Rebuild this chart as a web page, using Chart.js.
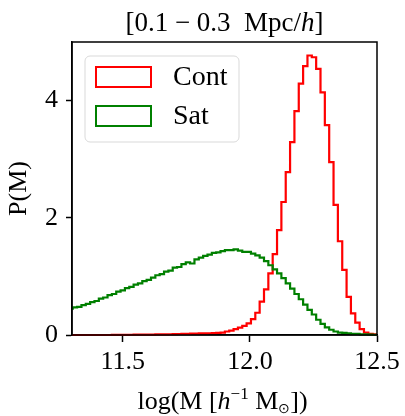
<!DOCTYPE html>
<html>
<head>
<meta charset="utf-8">
<script src="https://cdn.jsdelivr.net/npm/chart.js@4.4.0/dist/chart.umd.min.js"></script>
<style>
  html, body { margin: 0; padding: 0; background: #fff; }
</style>
</head>
<body>
<canvas id="histChart" width="405" height="416"></canvas>
<script>
// histogram bins (log M), uniform width
const binLo = 11.2859;
const binWidth = 0.0171;

// P(M) per bin
const contValues = [
  0, 0, 0, 0, 0, 0, 0, 0, 0, 0, 0.002, 0.002, 0.003, 0.003, 0.004, 0.005,
  0.005, 0.006, 0.008, 0.008, 0.009, 0.011, 0.012,
  0.013, 0.015, 0.017, 0.018, 0.02, 0.022,
  0.024, 0.027, 0.028, 0.03, 0.032, 0.035,
  0.04, 0.06, 0.075, 0.10, 0.125, 0.155, 0.20, 0.27, 0.38, 0.57, 0.78, 1.05,
  1.38, 1.79, 2.27, 2.78, 3.29, 3.82, 4.29, 4.59, 4.77, 4.74, 4.54, 4.14,
  3.58, 2.95, 2.22, 1.60, 1.11, 0.65, 0.37, 0.21, 0.10, 0.04, 0.02, 0.01
];
const satValues = [
  0.45, 0.47, 0.48, 0.51, 0.53, 0.56, 0.58, 0.62, 0.64, 0.68, 0.70, 0.74,
  0.76, 0.80, 0.82, 0.86, 0.88, 0.92, 0.94, 0.98, 1.02, 1.04, 1.08, 1.10,
  1.15, 1.16, 1.21, 1.24, 1.22, 1.29, 1.32, 1.35, 1.37, 1.40, 1.41, 1.43,
  1.45, 1.45, 1.46, 1.44, 1.42, 1.42, 1.39, 1.36, 1.32, 1.26, 1.19, 1.12,
  1.05, 0.97, 0.88, 0.79, 0.70, 0.61, 0.52, 0.43, 0.35, 0.26, 0.19, 0.13,
  0.09, 0.06, 0.04, 0.035, 0.03, 0.02, 0.018, 0.012, 0.01, 0.006, 0.004
];

const xTicks = [11.5, 12.0, 12.5];
const yTicks = [0, 2, 4];

const serif = 'Liberation Serif';

// one point per bin edge, last edge drops back to zero
function stepPoints(values) {
  const pts = values.map((v, k) => ({ x: binLo + k * binWidth, y: v }));
  pts.push({ x: binLo + values.length * binWidth, y: 0 });
  return pts;
}

// draw a line of text made of runs with different fonts, centred on cx
function drawRuns(ctx, runs, cx, baseline) {
  let w = 0;
  runs.forEach(r => { ctx.font = r.font; r.w = ctx.measureText(r.t).width; w += r.w; });
  let x = cx - w / 2;
  ctx.textAlign = 'left';
  ctx.textBaseline = 'alphabetic';
  runs.forEach(r => {
    ctx.font = r.font;
    ctx.fillText(r.t, x, baseline + (r.dy || 0));
    x += r.w;
  });
}

const frameAndLegend = {
  id: 'frameAndLegend',
  afterDatasetsDraw(chart) {
    const { ctx, chartArea: a } = chart;
    ctx.save();
    ctx.strokeStyle = '#000';
    ctx.lineWidth = 1.5;
    ctx.strokeRect(a.left, a.top, a.right - a.left, a.bottom - a.top);

    // legend box inside the axes, upper left
    const bx = a.left + 13, by = a.top + 14, bw = 154, bh = 86;
    ctx.beginPath();
    ctx.roundRect(bx, by, bw, bh, 5);
    ctx.fillStyle = 'rgba(255,255,255,0.8)';
    ctx.fill();
    ctx.strokeStyle = '#d9d9d9';
    ctx.lineWidth = 1;
    ctx.stroke();

    chart.data.datasets.forEach((ds, i) => {
      const y = by + 11 + i * 39;
      ctx.strokeStyle = ds.borderColor;
      ctx.lineWidth = 2;
      ctx.strokeRect(bx + 11, y, 55, 20);
      ctx.fillStyle = '#000';
      ctx.font = '28px "' + serif + '"';
      ctx.textBaseline = 'middle';
      ctx.fillText(ds.label, bx + 88, y + 11);
    });

    // title and x label with italic h / super- and subscripts
    const cx = (a.left + a.right) / 2;
    const f = (s, st) => (st || '') + ' ' + s + 'px "' + serif + '"';
    ctx.fillStyle = '#000';
    drawRuns(ctx, [
      { t: '[0.1 − 0.3  Mpc/', font: f(27) },
      { t: 'h', font: f(27, 'italic') },
      { t: ']', font: f(27) }
    ], cx, 31);
    drawRuns(ctx, [
      { t: 'log(M [', font: f(26) },
      { t: 'h', font: f(26, 'italic') },
      { t: '−1', font: f(17), dy: -10 },
      { t: ' M', font: f(26) },
      { t: '⊙', font: f(14), dy: 4 },
      { t: '])', font: f(26) }
    ], cx - 2, 409);
    ctx.restore();
  }
};

new Chart(document.getElementById('histChart'), {
  type: 'line',
  data: {
    datasets: [{
      label: 'Cont',
      data: stepPoints(contValues),
      borderColor: '#ff0000',
      borderWidth: 2.2,
      stepped: 'before',
      pointRadius: 0,
      fill: false,
      order: 1,
      clip: { left: 0, right: 0, top: 4, bottom: 4 }
    }, {
      label: 'Sat',
      data: stepPoints(satValues),
      borderColor: '#008000',
      borderWidth: 2.2,
      stepped: 'before',
      pointRadius: 0,
      fill: false,
      order: 0,
      clip: { left: 0, right: 0, top: 4, bottom: 4 }
    }]
  },
  options: {
    responsive: false,
    animation: false,
    layout: { padding: { top: 42, right: 28 } },
    plugins: {
      legend: { display: false },
      tooltip: { enabled: false }
    },
    scales: {
      x: {
        type: 'linear',
        min: 11.3,
        max: 12.5,
        afterBuildTicks: s => { s.ticks = xTicks.map(v => ({ value: v })); },
        afterFit: s => { s.height = 81; },
        grid: { drawOnChartArea: false, drawTicks: true, tickLength: 7, tickWidth: 1.5, tickColor: '#000' },
        border: { display: true, color: '#000', width: 1.5 },
        ticks: {
          color: '#000',
          font: { family: serif, size: 26 },
          padding: 5,
          maxRotation: 0,
          autoSkip: false,
          callback: v => v.toFixed(1)
        }
      },
      y: {
        min: 0,
        max: 5.0,
        afterBuildTicks: s => { s.ticks = yTicks.map(v => ({ value: v })); },
        afterFit: s => { s.width = 72; },
        grid: { drawOnChartArea: false, drawTicks: true, tickLength: 6, tickWidth: 1.5, tickColor: '#000' },
        border: { display: true, color: '#000', width: 1.5 },
        ticks: {
          color: '#000',
          font: { family: serif, size: 26 },
          padding: 8
        },
        title: {
          display: true,
          text: 'P(M)',
          color: '#000',
          font: { family: serif, size: 26 },
          padding: { top: 4, bottom: 0 }
        }
      }
    }
  },
  plugins: [frameAndLegend]
});
</script>
</body>
</html>
